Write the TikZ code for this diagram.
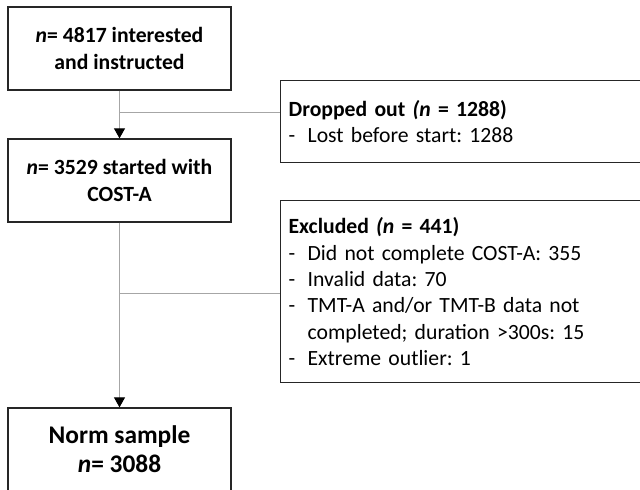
\documentclass[tikz,border=0pt]{standalone}
\usepackage{fontspec}
\setmainfont{Carlito}
\usetikzlibrary{arrows.meta}
\tikzset{
  box/.style={draw=black!85, line width=1.3pt, rectangle, inner sep=0pt},
  mainbox/.style={box, minimum width=223pt, minimum height=83pt, align=center,
    font=\fontsize{21.7}{26.3}\selectfont\bfseries},
  sidebox/.style={box, anchor=north west, minimum width=380pt, text width=364pt,
    align=left, font=\fontsize{21.7}{26.3}\selectfont},
  conn/.style={draw=black!35, line width=1pt},
  arr/.style={conn, -{Triangle[width=11pt,length=10pt,color=black]}}
}
\newcommand{\mkdash}{\makebox[19pt][l]{-}}
\frenchspacing
\begin{document}
\begin{tikzpicture}[x=1pt,y=-1pt]
\useasboundingbox (0,0) rectangle (640,490);
\clip (0,0) rectangle (640,490);
\fill[white] (0,0) rectangle (640,490);
\node[mainbox] (b1) at (119.5,48.5) {\textit{n}= 4817 interested\\and instructed};
\node[mainbox] (b2) at (119.5,180.5) {\textit{n}= 3529 started with\\COST-A};
\node[mainbox, font=\fontsize{25.4}{29}\selectfont\bfseries] (b3) at (119.5,449.5) {Norm sample\\\textit{n}= 3088};
\node[sidebox, minimum height=82pt] (drop) at (280,80) {\textbf{Dropped out \textit{(n} = 1288)}\\\mkdash Lost before start: 1288};
\node[sidebox, minimum height=182pt] (excl) at (280,200) {\textbf{Excluded \textit{(n} = 441)}\\
\mkdash Did not complete COST-A: 355\\
\mkdash Invalid data: 70\\
\mkdash TMT-A and/or TMT-B data not\\
\hspace*{19pt}completed; duration >300s: 15\\
\mkdash Extreme outlier: 1};
\coordinate (j1) at (120,112);
\coordinate (j2) at (120,293);
\draw[arr] (b1.south) -- (b2.north);
\draw[conn] (j1) -- (j1 -| drop.west);
\draw[arr] (b2.south) -- (b3.north);
\draw[conn] (j2) -- (j2 -| excl.west);
\end{tikzpicture}
\end{document}
